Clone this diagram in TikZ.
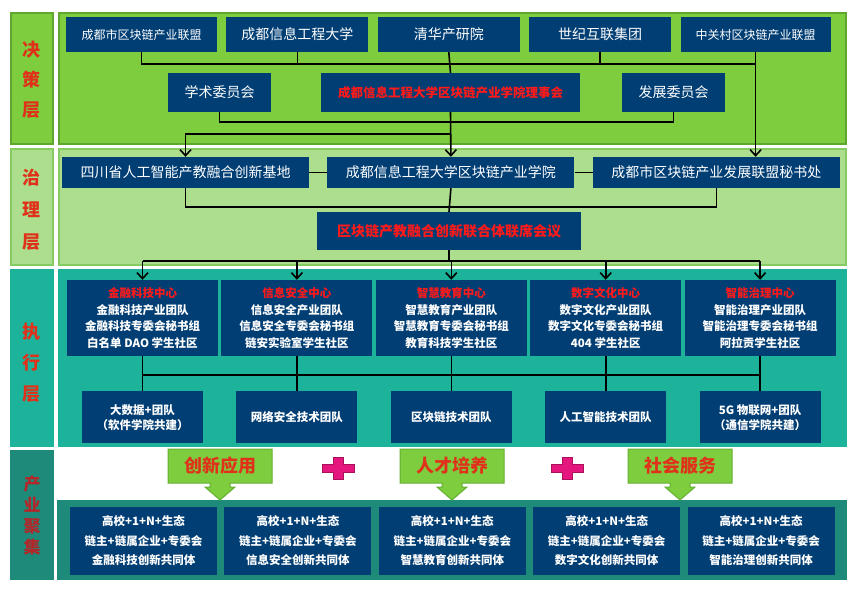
\documentclass[tikz,border=0pt]{standalone}
\usepackage{fontspec}
\setmainfont{Noto Sans CJK SC}
\usetikzlibrary{arrows.meta,positioning}

\definecolor{navy}{RGB}{0,62,116}
\definecolor{juece}{RGB}{125,205,63}
\definecolor{jueceline}{RGB}{94,167,46}
\definecolor{zhili}{RGB}{172,222,142}
\definecolor{zhililine}{RGB}{134,203,98}
\definecolor{zhixing}{RGB}{29,179,154}
\definecolor{chanye}{RGB}{30,138,122}
\definecolor{labelred}{RGB}{224,50,26}
\definecolor{darkred}{RGB}{178,40,42}
\definecolor{boxred}{RGB}{255,26,26}
\definecolor{callline}{RGB}{100,175,50}
\definecolor{pluspink}{RGB}{229,22,126}
\definecolor{plusline}{RGB}{170,16,90}

\begin{document}
\begin{tikzpicture}[x=1pt,y=-1pt,>={Straight Barb[length=6pt,width=11pt]},
    box/.style={fill=navy,text=white,inner sep=0pt,align=center,font=\fontsize{14}{16}\selectfont},
    small/.style={box,font=\fontsize{12}{14}\selectfont},
    center/.style={box,font=\bfseries\fontsize{11.5}{16.5}\selectfont,minimum width=151pt,minimum height=76pt},
    team/.style={box,font=\bfseries\fontsize{11.5}{15}\selectfont,minimum width=121pt,minimum height=52pt},
    group/.style={box,font=\bfseries\fontsize{11.5}{19.5}\selectfont,minimum width=147pt,minimum height=68pt},
    layer/.style={align=center,inner sep=0pt,font=\bfseries\fontsize{18}{30}\selectfont,text=labelred},
    link/.style={line width=1.6pt},
    callout/.style={fill=juece,draw=callline,line width=1pt},
    calltext/.style={font=\bfseries\fontsize{18}{20}\selectfont,text=labelred}]

    \useasboundingbox (0,0) rectangle (854,589);

    \draw[fill=juece,draw=jueceline,line width=2pt] (11,13) rectangle (53,144);

    \draw[fill=juece,draw=jueceline,line width=2pt] (59,13) rectangle (846,144);

    \draw[fill=zhili,draw=zhililine,line width=2pt] (11,149) rectangle (53,265);

    \draw[fill=zhili,draw=zhililine,line width=2pt] (59,149) rectangle (846,265);

    \fill[zhixing] (10,269) rectangle (54,447);

    \fill[zhixing] (58,269) rectangle (847,447);

    \fill[chanye] (10,450) rectangle (54,580);

    \fill[chanye] (57,500) rectangle (847,580);

    \node[layer] (ljc) at (32,80) {决\\策\\层};

    \node[layer,font=\bfseries\fontsize{18}{32}\selectfont] (lzl) at (32,210) {治\\理\\层};

    \node[layer,font=\bfseries\fontsize{18}{31}\selectfont] (lzx) at (32,363) {执\\行\\层};

    \node[layer,text=darkred,font=\bfseries\fontsize{17}{21}\selectfont] (lcy) at (32,515) {产\\业\\聚\\集};

    \node[small,minimum width=151pt,minimum height=35pt] (lm) at (141.5,34.5) {成都市区块链产业联盟};

    \node[box,minimum width=142pt,minimum height=35pt] (cd) [right=9pt of lm] {成都信息工程大学};

    \node[box,minimum width=142pt,minimum height=35pt] (qh) [right=9pt of cd] {清华产研院};

    \node[box,minimum width=142pt,minimum height=35pt] (sj) [right=9pt of qh] {世纪互联集团};

    \node[small,minimum width=150pt,minimum height=35pt] (zgc) [right=9pt of sj] {中关村区块链产业联盟};

    \node[box,minimum width=103pt,minimum height=39pt] (xs) at (219.5,92.5) {学术委员会};

    \node[small,text=boxred,font=\bfseries\fontsize{12.5}{14}\selectfont,minimum width=259pt,minimum height=39pt] (lsh) at (450.5,92.5) {成都信息工程大学区块链产业学院理事会};

    \node[box,minimum width=103pt,minimum height=39pt] (fz) at (673.5,92.5) {发展委员会};

    \node[box,minimum width=247pt,minimum height=31pt] (sc) at (185.5,172.5) {四川省人工智能产教融合创新基地};

    \node[box,minimum width=247pt,minimum height=31pt] (cx) [right=18pt of sc] {成都信息工程大学区块链产业学院};

    \node[box,minimum width=247pt,minimum height=31pt] (msc) [right=18pt of cx] {成都市区块链产业发展联盟秘书处};

    \node[box,text=boxred,font=\bfseries\fontsize{14}{16}\selectfont,minimum width=264pt,minimum height=38pt] (lx) at (449,231) {区块链产教融合创新联合体联席会议};

    \node[center] (zx1) at (142.5,318) {\textcolor{boxred}{金融科技中心}\\金融科技产业团队\\金融科技专委会秘书组\\白名单 DAO 学生社区};

    \node[center] (zx2) [right=3pt of zx1] {\textcolor{boxred}{信息安全中心}\\信息安全产业团队\\信息安全专委会秘书组\\链安实验室学生社区};

    \node[center] (zx3) [right=3pt of zx2] {\textcolor{boxred}{智慧教育中心}\\智慧教育产业团队\\智慧教育专委会秘书组\\教育科技学生社区};

    \node[center] (zx4) [right=3pt of zx3] {\textcolor{boxred}{数字文化中心}\\数字文化产业团队\\数字文化专委会秘书组\\404 学生社区};

    \node[center] (zx5) [right=3pt of zx4] {\textcolor{boxred}{智能治理中心}\\智能治理产业团队\\智能治理专委会秘书组\\阿拉贡学生社区};

    \node[team] (td1) [below=35pt of zx1] {大数据+团队\\（软件学院共建）};

    \node[team] (td2) [below=35pt of zx2] {网络安全技术团队};

    \node[team] (td3) [below=35pt of zx3] {区块链技术团队};

    \node[team] (td4) [below=35pt of zx4] {人工智能技术团队};

    \node[team] (td5) [below=35pt of zx5] {5G 物联网+团队\\（通信学院共建）};

    \node[group] (gt1) at (143.5,541) {高校+1+N+生态\\链主+链属企业+专委会\\金融科技创新共同体};

    \node[group] (gt2) [right=7pt of gt1] {高校+1+N+生态\\链主+链属企业+专委会\\信息安全创新共同体};

    \node[group] (gt3) [right=7pt of gt2] {高校+1+N+生态\\链主+链属企业+专委会\\智慧教育创新共同体};

    \node[group] (gt4) [right=7pt of gt3] {高校+1+N+生态\\链主+链属企业+专委会\\数字文化创新共同体};

    \node[group] (gt5) [right=7pt of gt4] {高校+1+N+生态\\链主+链属企业+专委会\\智能治理创新共同体};

    \foreach \x/\t/\n in {220/创新应用/ca,452/人才培养/cb,680/社会服务/cc} {
        \draw[callout] (\x-52,449) -- (\x+52,449) -- (\x+52,483) -- (\x+10,483) -- (\x+10,487) -- (\x+15,487)
            -- (\x,500) -- (\x-15,487) -- (\x-10,487) -- (\x-10,483) -- (\x-52,483) -- cycle;
        \node[calltext] (\n) at (\x,466) {\t};
    }

    \foreach \x/\n in {338/pa,567/pb} {
        \draw[fill=pluspink,draw=plusline,line width=1pt] (\x-5,457) -- (\x+5,457) -- (\x+5,464) -- (\x+16,464) -- (\x+16,472)
            -- (\x+5,472) -- (\x+5,479) -- (\x-5,479) -- (\x-5,472) -- (\x-16,472) -- (\x-16,464) -- (\x-5,464) -- cycle;
        \coordinate (\n) at (\x,468);
    }

    \coordinate (busA) at (0,64);

    \coordinate (busB) at (0,122);

    \coordinate (busC) at (0,134);

    \coordinate (busD) at (0,207);

    \coordinate (busE) at (0,261);

    \coordinate (busF) at (0,375);

    \draw[link] (lm.south) -- (lm.south |- busA) -- (zgc.south |- busA);

    \foreach \n in {cd,sj} \draw[link] (\n.south) -- (\n.south |- busA);

    \draw[link] (qh.south) -- (lsh.north);

    \draw[link,->] (zgc.south) -- (zgc.south |- msc.north);

    \draw[link] (xs.south) |- (busB -| fz.south) -- (fz.south);

    \draw[link,->] (lsh.south) -- (lsh.south |- busC) -| (sc.north);

    \draw[link,->] (lsh.south) -- (cx.north);

    \draw[link] (sc.east) -- (cx.west);

    \draw[link] (cx.east) -- (msc.west);

    \draw[link] (sc.south) |- (busD -| msc.south) -- (msc.south);

    \draw[link] (cx.south) -- (lx.north);

    \draw[link] (lx.south) -- (lx.south |- busE);

    \draw[link] (zx1.north |- busE) -- (zx5.north |- busE);

    \foreach \i in {1,...,5} \draw[link,->] (zx\i.north |- busE) -- (zx\i.north);

    \draw[link] (zx1.south |- busF) -- (zx5.south |- busF);

    \foreach \i in {1,...,5} \draw[link] (zx\i.south) -- (td\i.north);

\end{tikzpicture}
\end{document}
